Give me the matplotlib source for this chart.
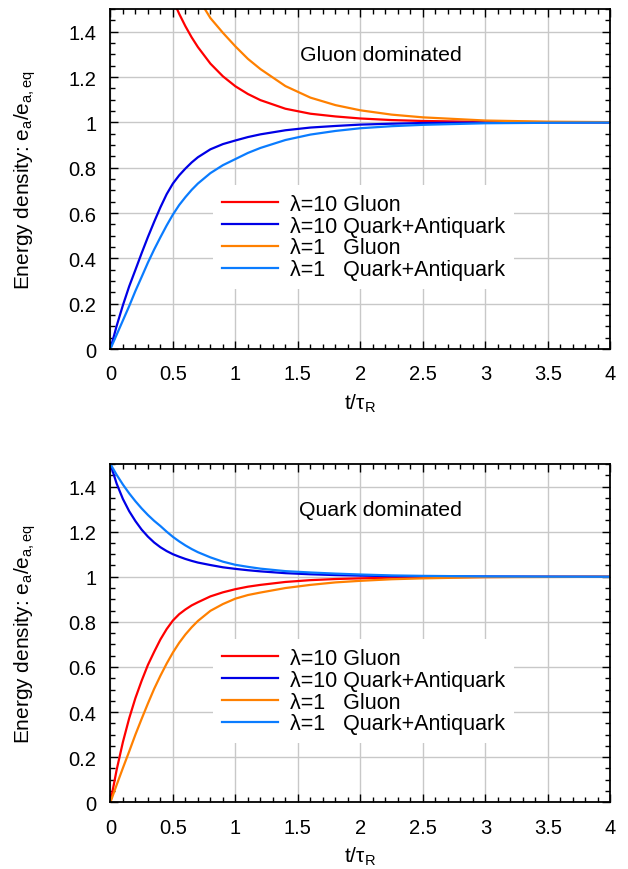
import numpy as np
import matplotlib
matplotlib.use("Agg")
import matplotlib.pyplot as plt
from matplotlib.ticker import MultipleLocator, FuncFormatter

plt.rcParams['font.family'] = ['Liberation Sans', 'DejaVu Sans']
plt.rcParams['mathtext.fontset'] = 'custom'
plt.rcParams['mathtext.rm'] = 'Liberation Sans'
plt.rcParams['mathtext.it'] = 'Liberation Sans:italic'

nan = np.nan

# time in units of tau_R
t = [0, 0.05, 0.1, 0.15, 0.2, 0.25, 0.3, 0.35, 0.4, 0.45, 0.5, 0.55, 0.6, 0.65, 0.7, 0.8, 0.9, 1.0,
     1.1, 1.2, 1.4, 1.6, 1.8, 2.0, 2.25, 2.5, 3.0, 3.5, 4.0]

# gluon dominated start
top_g10 = [nan, nan, nan, nan, nan, nan, nan, nan, nan, 1.61, 1.541, 1.479, 1.424, 1.375, 1.332, 1.259, 1.203, 1.159,
           1.125, 1.098, 1.06, 1.038, 1.026, 1.017, 1.010, 1.006, 1.002, 1.001, 1.0]
top_q10 = [0, 0.102, 0.193, 0.276, 0.349, 0.423, 0.494, 0.561, 0.625, 0.683, 0.730, 0.766, 0.796, 0.823, 0.846, 0.881, 0.904, 0.920,
           0.935, 0.947, 0.965, 0.977, 0.984, 0.990, 0.994, 0.997, 0.999, 1.0, 1.0]
top_g1 = [nan, nan, nan, nan, nan, nan, nan, nan, nan, nan, nan, nan, nan, 1.60, 1.55, 1.46, 1.395, 1.335,
          1.28, 1.235, 1.16, 1.109, 1.076, 1.053, 1.034, 1.022, 1.008, 1.003, 1.001]
top_q1 = [0, 0.063, 0.126, 0.189, 0.256, 0.318, 0.381, 0.439, 0.493, 0.545, 0.593, 0.635, 0.670, 0.702, 0.730, 0.776, 0.811, 0.838,
          0.865, 0.887, 0.922, 0.946, 0.962, 0.974, 0.983, 0.989, 0.996, 0.998, 0.999]

# quark dominated start
bot_g10 = [0, 0.144, 0.267, 0.372, 0.462, 0.539, 0.609, 0.667, 0.722, 0.768, 0.806, 0.834, 0.855, 0.873, 0.887, 0.913, 0.931, 0.945,
           0.956, 0.964, 0.977, 0.985, 0.990, 0.993, 0.996, 0.998, 0.999, 1.0, 1.0]
bot_q10 = [1.5, 1.413, 1.345, 1.291, 1.247, 1.209, 1.178, 1.152, 1.131, 1.114, 1.100, 1.089, 1.079, 1.0705, 1.063, 1.052, 1.042, 1.035,
           1.029, 1.024, 1.016, 1.011, 1.0075, 1.005, 1.003, 1.002, 1.001, 1.0, 1.0]
bot_g1 = [0, 0.077, 0.152, 0.225, 0.300, 0.370, 0.438, 0.503, 0.561, 0.615, 0.664, 0.707, 0.744, 0.776, 0.804, 0.849, 0.879, 0.903,
          0.919, 0.930, 0.950, 0.964, 0.975, 0.982, 0.989, 0.993, 0.998, 0.999, 1.0]
bot_q1 = [1.5, 1.452, 1.409, 1.370, 1.335, 1.303, 1.274, 1.248, 1.225, 1.200, 1.177, 1.157, 1.139, 1.123, 1.109, 1.086, 1.067, 1.053,
          1.044, 1.036, 1.025, 1.019, 1.014, 1.010, 1.006, 1.004, 1.0015, 1.0005, 1.0]

labels = ['λ=10 Gluon', 'λ=10 Quark+Antiquark', 'λ=1   Gluon', 'λ=1   Quark+Antiquark']
colors = ['#ff0000', '#0000e6', '#ff8000', '#0a7cff']

fig = plt.figure(figsize=(6.28, 8.7), dpi=100)
ax1 = fig.add_axes([0.1758, 0.5977, 0.7962, 0.3908])
ax2 = fig.add_axes([0.1758, 0.0767, 0.7962, 0.3888])

fmt = FuncFormatter(lambda v, p: '%g' % round(v, 2))

for ax, series, title in [(ax1, [top_g10, top_q10, top_g1, top_q1], 'Gluon dominated'),
                          (ax2, [bot_g10, bot_q10, bot_g1, bot_q1], 'Quark dominated')]:
    for y, c, lab in zip(series, colors, labels):
        ax.plot(t, y, color=c, lw=1.6, label=lab)
    ax.set_xlim(0, 4)
    ax.set_ylim(0, 1.5)
    ax.xaxis.set_major_locator(MultipleLocator(0.5))
    ax.xaxis.set_minor_locator(MultipleLocator(0.1))
    ax.yaxis.set_major_locator(MultipleLocator(0.2))
    ax.yaxis.set_minor_locator(MultipleLocator(0.05))
    ax.xaxis.set_major_formatter(fmt)
    ax.yaxis.set_major_formatter(fmt)
    ax.grid(True, which='major', color='#c8c8c8', lw=1.0)
    ax.set_axisbelow(True)
    ax.tick_params(which='both', direction='in', top=True, right=True, labelsize=14.5)
    ax.tick_params(axis='x', which='major', pad=11)
    ax.tick_params(axis='y', which='major', pad=10)
    ax.tick_params(which='major', length=6, width=1)
    ax.tick_params(which='minor', length=3.5, width=1)
    for s in ax.spines.values():
        s.set_linewidth(1.3)
    ax.set_xlabel(r't/τ$_\mathregular{R}$', fontsize=15, labelpad=6)
    ax.set_ylabel(r'Energy density: e$_\mathregular{a}$/e$_\mathregular{a,eq}$', fontsize=15)
    ax.yaxis.set_label_coords(-0.145, 0.5)
    ax.text(2.16, 1.3, title, fontsize=15.3, ha='center', va='center')
    leg = ax.legend(loc='upper left', bbox_to_anchor=(0.206, 0.482), fontsize=15.5,
                    frameon=True, fancybox=False, framealpha=1, edgecolor='none',
                    facecolor='white', handlelength=2.6, handletextpad=0.55,
                    labelspacing=0.04, borderpad=0.4, borderaxespad=0)
    for h in leg.get_lines():
        h.set_linewidth(1.6)

fig.savefig('out.png', dpi=100)
